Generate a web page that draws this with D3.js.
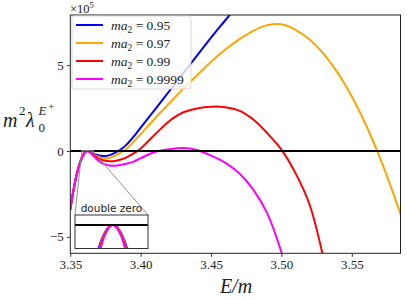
<!DOCTYPE html>
<html>
<head>
<meta charset="utf-8">
<script src="https://cdn.jsdelivr.net/npm/d3@7"></script>
<style>
body { margin: 0; background: #fff; }
svg text { font-family: "Liberation Serif", "DejaVu Serif", serif !important; }
svg text.sans { font-family: "DejaVu Sans", sans-serif !important; }
</style>
</head>
<body>
<div id="graph"></div>
<script>
// E/m grid shared by the four curves
var energy = [3.350, 3.353, 3.356, 3.359, 3.361, 3.3624, 3.365, 3.368, 3.371, 3.374, 3.378, 3.382,
    3.386, 3.390, 3.395, 3.400, 3.410, 3.420, 3.430, 3.440, 3.450, 3.460, 3.470, 3.480, 3.490,
    3.500, 3.510, 3.520, 3.530, 3.540, 3.550, 3.560, 3.570, 3.580, 3.590];
// m^2 lambda values, in units of 1e5
var ma095 = [-3.41, -1.96, -0.91, -0.26, -0.04, 0, -0.1, -0.2, -0.27, -0.3, -0.24, -0.1,
    0.1, 0.37, 0.84, 1.36, 2.4, 3.45, 4.5, 5.55, 6.6, 7.6, 8.6, null, null,
    null, null, null, null, null, null, null, null, null, null];
var ma097 = [-3.41, -1.96, -0.91, -0.26, -0.04, 0, -0.12, -0.27, -0.39, -0.43, -0.39, -0.27,
    -0.08, 0.13, 0.54, 0.98, 1.88, 2.75, 3.6, 4.4, 5.2, 5.9, 6.5, 7.0, 7.33,
    7.38, 7.06, 6.49, 5.66, 4.55, 3.17, 1.53, -0.4, -2.59, -5.04];
var ma099 = [-3.41, -1.96, -0.91, -0.26, -0.04, 0, -0.14, -0.33, -0.48, -0.56, -0.6, -0.58,
    -0.5, -0.37, -0.14, 0.15, 0.95, 1.72, 2.24, 2.48, 2.58, 2.55, 2.35, 1.83, 1.03,
    0.08, -1.29, -3.12, -6.3, null, null, null, null, null, null];
var ma09999 = [-3.41, -1.96, -0.91, -0.26, -0.04, 0, -0.17, -0.42, -0.62, -0.77, -0.85, -0.86,
    -0.81, -0.74, -0.62, -0.42, -0.06, 0.1, 0.17, 0.06, -0.27, -0.68, -1.3, -2.25, -3.65,
    -5.9, -9.0, null, null, null, null, null, null, null, null];

// zoomed-in values around the double zero (inset)
var insetEnergy = [3.3602, 3.3608, 3.3614, 3.3620, 3.3624, 3.3628, 3.3634, 3.3640, 3.3646];
var inset095 = [-0.0965, -0.0515, -0.020, -0.0032, 0, -0.0032, -0.020, -0.0515, -0.0965];
var inset097 = [-0.108, -0.0579, -0.0225, -0.0036, 0, -0.0036, -0.0225, -0.0579, -0.108];
var inset099 = [-0.117, -0.0623, -0.0244, -0.0038, 0, -0.0038, -0.0244, -0.0623, -0.117];
var inset09999 = [-0.133, -0.0708, -0.0276, -0.0045, 0, -0.0045, -0.0276, -0.0708, -0.133];

var labels = ["0.95", "0.97", "0.99", "0.9999"];
var colors = ["#0000ff", "#ffa500", "#ff0000", "#ff00ff"];
var xTicks = [3.35, 3.40, 3.45, 3.50, 3.55];
var yTicks = [-5, 0, 5];

var series = [ma095, ma097, ma099, ma09999];
var insetSeries = [inset095, inset097, inset099, inset09999];

var W = 407, H = 300;
var margin = { top: 15, right: 6.5, bottom: 46.7, left: 70.3 },
    width = W - margin.left - margin.right,
    height = H - margin.top - margin.bottom;

var root = d3.select("#graph").append("svg")
    .attr("width", W).attr("height", H);

var defs = root.append("defs");
defs.append("clipPath").attr("id", "plotclip").append("rect")
    .attr("width", width).attr("height", height);

var svg = root.append("g")
    .attr("transform", "translate(" + margin.left + "," + margin.top + ")");

var x = d3.scaleLinear().domain([3.35, 3.5846]).range([0, width]);
var y = d3.scaleLinear().domain([-5.96, 7.92]).range([height, 0]);

// curves
var plot = svg.append("g").attr("clip-path", "url(#plotclip)");
series.forEach(function (vals, i) {
    var pts = energy.map(function (e, j) { return { e: e, v: vals[j] }; });
    plot.append("path")
        .datum(pts)
        .attr("fill", "none")
        .attr("stroke", colors[i])
        .attr("stroke-width", 2)
        .attr("d", d3.line()
            .defined(function (d) { return d.v !== null; })
            .curve(d3.curveCatmullRom.alpha(0.5))
            .x(function (d) { return x(d.e); })
            .y(function (d) { return y(d.v); }));
});
// zero line
plot.append("line")
    .attr("x1", 0).attr("x2", width)
    .attr("y1", y(0)).attr("y2", y(0))
    .attr("stroke", "#000").attr("stroke-width", 2);

// axes
var xAxis = svg.append("g")
    .attr("transform", "translate(0," + height + ")")
    .call(d3.axisBottom(x).tickValues(xTicks).tickFormat(d3.format(".2f")).tickSize(3.5).tickPadding(3));
var yAxis = svg.append("g")
    .call(d3.axisLeft(y).tickValues(yTicks).tickFormat(function (d) { return d < 0 ? "\u2212" + (-d) : d; }).tickSize(3.5).tickPadding(3));
[xAxis, yAxis].forEach(function (a) {
    a.attr("font-family", null);
    a.select(".domain").remove();
    a.selectAll("text").attr("font-size", 13).attr("fill", "#222");
    a.selectAll("line").attr("stroke", "#222").attr("stroke-width", 0.9);
});
svg.append("rect")
    .attr("width", width).attr("height", height)
    .attr("fill", "none").attr("stroke", "#222").attr("stroke-width", 1);

// inset region and connectors
var inX0 = 75 - margin.left, inX1 = 148 - margin.left, inY0 = 215 - margin.top, inY1 = 248.5 - margin.top;
var ix = d3.scaleLinear().domain([3.3581, 3.3664]).range([inX0, inX1]);
var iy = d3.scaleLinear().domain([-0.053, 0.0227]).range([inY1, inY0]);

svg.append("rect")
    .attr("x", x(3.3581)).attr("y", y(0.0227))
    .attr("width", x(3.3664) - x(3.3581)).attr("height", y(-0.053) - y(0.0227))
    .attr("fill", "none").attr("stroke", "#888").attr("stroke-width", 0.8);
svg.append("line")
    .attr("x1", x(3.3581)).attr("y1", y(-0.053)).attr("x2", inX0).attr("y2", inY0)
    .attr("stroke", "#888").attr("stroke-width", 0.9);
svg.append("line")
    .attr("x1", x(3.3664)).attr("y1", y(-0.053)).attr("x2", inX1).attr("y2", inY0)
    .attr("stroke", "#888").attr("stroke-width", 0.9);

defs.append("clipPath").attr("id", "insetclip").append("rect")
    .attr("x", inX0).attr("y", inY0).attr("width", inX1 - inX0).attr("height", inY1 - inY0);
svg.append("rect")
    .attr("x", inX0).attr("y", inY0).attr("width", inX1 - inX0).attr("height", inY1 - inY0)
    .attr("fill", "#fff");
var inset = svg.append("g").attr("clip-path", "url(#insetclip)");
insetSeries.forEach(function (vals, i) {
    var pts = insetEnergy.map(function (e, j) { return { e: e, v: vals[j] }; });
    inset.append("path")
        .datum(pts)
        .attr("fill", "none")
        .attr("stroke", colors[i])
        .attr("stroke-width", 2)
        .attr("d", d3.line().curve(d3.curveNatural)
            .x(function (d) { return ix(d.e); })
            .y(function (d) { return iy(d.v); }));
});
inset.append("line")
    .attr("x1", inX0).attr("x2", inX1).attr("y1", iy(0)).attr("y2", iy(0))
    .attr("stroke", "#000").attr("stroke-width", 2);
svg.append("rect")
    .attr("x", inX0).attr("y", inY0).attr("width", inX1 - inX0).attr("height", inY1 - inY0)
    .attr("fill", "none").attr("stroke", "#333").attr("stroke-width", 1);
svg.append("text")
    .attr("class", "sans")
    .attr("x", (inX0 + inX1) / 2).attr("y", inY0 - 3)
    .attr("text-anchor", "middle")
    .attr("font-size", 10.5).attr("fill", "#222")
    .text("double zero");

// legend
var leg = svg.append("g").attr("transform", "translate(" + (72 - margin.left) + "," + (16 - margin.top) + ")");
leg.append("rect")
    .attr("width", 119).attr("height", 73).attr("rx", 2)
    .attr("fill", "#fff").attr("fill-opacity", 0.8)
    .attr("stroke", "#d0d0d0").attr("stroke-width", 0.8);
labels.forEach(function (lab, i) {
    var ly = 9 + i * 18;
    leg.append("line")
        .attr("x1", 4).attr("x2", 31).attr("y1", ly).attr("y2", ly)
        .attr("stroke", colors[i]).attr("stroke-width", 2);
    var t = leg.append("text")
        .attr("x", 39).attr("y", ly + 4.5)
        .attr("font-size", 13.5).attr("fill", "#222");
    t.append("tspan").attr("font-style", "italic").text("ma");
    t.append("tspan").attr("font-size", 9.5).attr("dy", 3).text("2");
    t.append("tspan").attr("dy", -3).text(" = " + lab);
});

// labels
root.append("text").attr("x", 70).attr("y", 12.5).attr("font-size", 12.5).attr("fill", "#222")
    .text("\u00d710")
    .append("tspan").attr("font-size", 8.5).attr("dy", -5).text("5");

root.append("text").attr("x", 236).attr("y", 293).attr("text-anchor", "middle")
    .attr("font-size", 20).attr("font-style", "italic").attr("fill", "#222")
    .text("E/m");

var yl = root.append("g").attr("fill", "#222");
yl.append("text").attr("x", 3).attr("y", 127).attr("font-size", 20).attr("font-style", "italic").text("m");
yl.append("text").attr("x", 19).attr("y", 115).attr("font-size", 13).text("2");
yl.append("text").attr("x", 26).attr("y", 127).attr("font-size", 20).attr("font-style", "italic").text("\u03bb");
yl.append("text").attr("x", 38.5).attr("y", 132).attr("font-size", 13).text("0");
yl.append("text").attr("x", 38.5).attr("y", 115).attr("font-size", 13).attr("font-style", "italic").text("E");
yl.append("text").attr("x", 48.5).attr("y", 110).attr("font-size", 10).text("+");
</script>
</body>
</html>
